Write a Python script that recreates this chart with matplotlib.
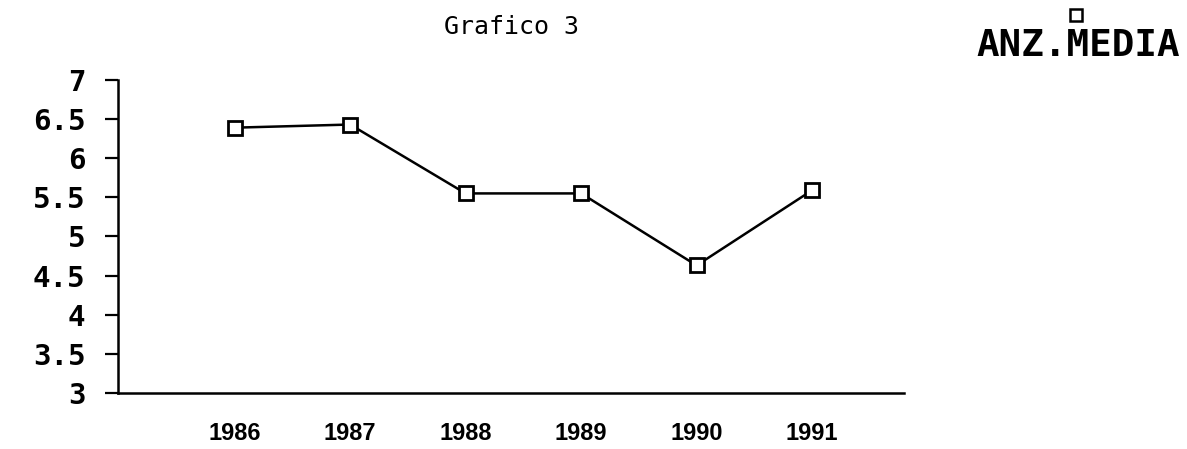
import matplotlib
matplotlib.use('Agg')
import matplotlib.pyplot as plt
from matplotlib.lines import Line2D

years = ['1986', '1987', '1988', '1989', '1990', '1991']
anz_media = [6.39, 6.43, 5.55, 5.55, 4.63, 5.59]
y_ticks = [3, 3.5, 4, 4.5, 5, 5.5, 6, 6.5, 7]
y_labels = ['3', '3.5', '4', '4.5', '5', '5.5', '6', '6.5', '7']

fig = plt.figure(figsize=(11.87, 4.49), dpi=100)
ax = fig.add_axes([0.0994, 0.1247, 0.6626, 0.6973])

x = list(range(len(years)))
ax.plot(x, anz_media, color='black', linewidth=1.8, marker='s', markersize=9.5,
        markerfacecolor='white', markeredgecolor='black', markeredgewidth=2.0,
        clip_on=False)

ax.set_xlim(-1.01, 5.8)
ax.set_ylim(3, 7)
ax.set_xticks(x)
ax.set_xticklabels(years, family='Liberation Sans', fontweight='bold', fontsize=17)
ax.set_yticks(y_ticks)
ax.set_yticklabels(y_labels, family='DejaVu Sans Mono', fontweight='bold', fontsize=21)

ax.tick_params(axis='x', length=0, pad=21)
ax.tick_params(axis='y', direction='out', length=9.5, width=1.6, pad=14)

for side in ['top', 'right']:
    ax.spines[side].set_visible(False)
for side in ['left', 'bottom']:
    ax.spines[side].set_linewidth(1.8)

fig.text(0.431, 0.94, 'Grafico 3', family='DejaVu Sans Mono', fontsize=18,
         ha='center', va='center')

# legend key: marker above the series name
fig.add_artist(Line2D([0.9065], [0.967], transform=fig.transFigure, marker='s',
                      markersize=8, markerfacecolor='white', markeredgecolor='black',
                      markeredgewidth=1.8, linestyle='none'))
fig.text(0.994, 0.898, 'ANZ.MEDIA', family='DejaVu Sans Mono', fontweight='bold',
         fontsize=27, ha='right', va='center')

plt.savefig('out.png', dpi=100)
